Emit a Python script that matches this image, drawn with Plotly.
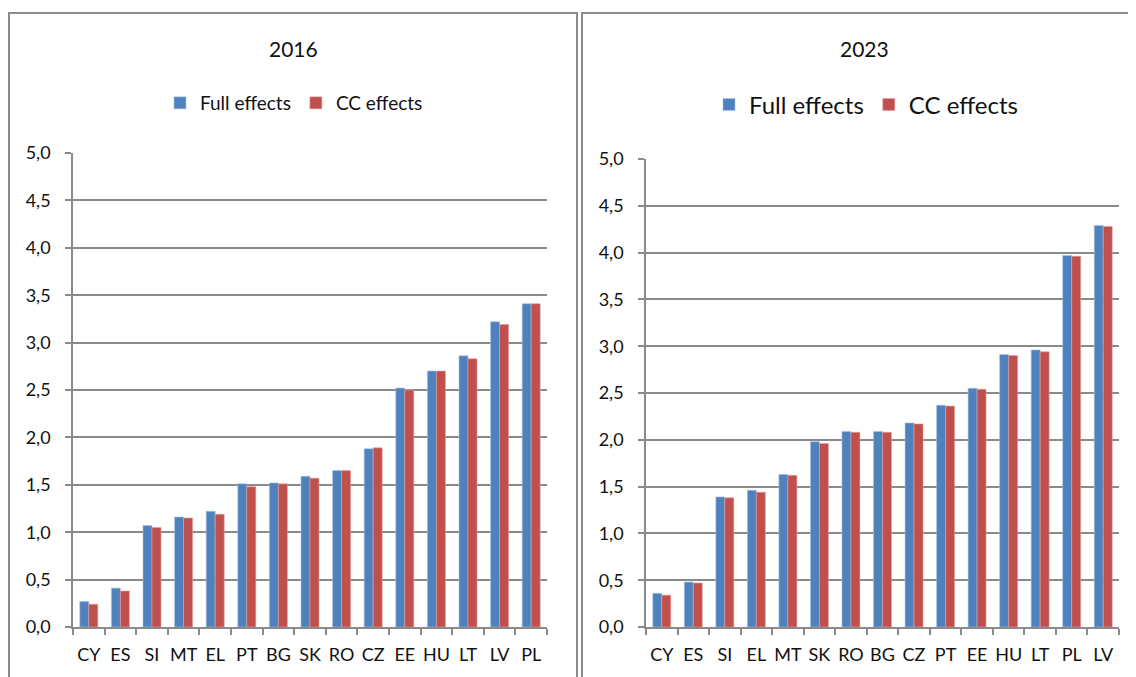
import plotly.graph_objects as go

W, H = 1136, 677
OFF = 8  # default page body margin of the html page

# ---- data ----
countries_2016 = ["CY", "ES", "SI", "MT", "EL", "PT", "BG", "SK", "RO", "CZ", "EE", "HU", "LT", "LV", "PL"]
full_2016 = [0.27, 0.41, 1.07, 1.16, 1.22, 1.51, 1.52, 1.59, 1.65, 1.88, 2.52, 2.70, 2.86, 3.22, 3.41]
cc_2016 = [0.24, 0.38, 1.05, 1.15, 1.19, 1.48, 1.51, 1.57, 1.65, 1.89, 2.50, 2.70, 2.83, 3.19, 3.41]

countries_2023 = ["CY", "ES", "SI", "EL", "MT", "SK", "RO", "BG", "CZ", "PT", "EE", "HU", "LT", "PL", "LV"]
full_2023 = [0.36, 0.48, 1.39, 1.46, 1.63, 1.98, 2.09, 2.09, 2.18, 2.37, 2.55, 2.91, 2.96, 3.97, 4.29]
cc_2023 = [0.34, 0.47, 1.38, 1.44, 1.62, 1.96, 2.08, 2.08, 2.17, 2.36, 2.54, 2.90, 2.94, 3.96, 4.28]

series_names = ["Full effects", "CC effects"]
colors = ["#4F81BD", "#C0504D"]
yticks = [0.0, 0.5, 1.0, 1.5, 2.0, 2.5, 3.0, 3.5, 4.0, 4.5, 5.0]

FONT = "Lato, 'Open Sans', sans-serif"

def px(x):
    return (x - OFF) / W

def py(y):
    return 1 - (y - OFF) / H

fig = go.Figure()

fig.add_trace(go.Bar(x=countries_2016, y=full_2016, name=series_names[0], marker_color=colors[0],
                     marker_line=dict(color="#A9C1E0", width=0.6), xaxis="x", yaxis="y", legend="legend"))
fig.add_trace(go.Bar(x=countries_2016, y=cc_2016, name=series_names[1], marker_color=colors[1],
                     marker_line=dict(color="#DDA09E", width=0.6), xaxis="x", yaxis="y", legend="legend"))
fig.add_trace(go.Bar(x=countries_2023, y=full_2023, name=series_names[0], marker_color=colors[0],
                     marker_line=dict(color="#A9C1E0", width=0.6), xaxis="x2", yaxis="y2", legend="legend2"))
fig.add_trace(go.Bar(x=countries_2023, y=cc_2023, name=series_names[1], marker_color=colors[1],
                     marker_line=dict(color="#DDA09E", width=0.6), xaxis="x2", yaxis="y2", legend="legend2"))

AX = "#8a8a8a"
TICKFONT = dict(family=FONT, size=18, color="#111")
common_x = dict(showgrid=False, showline=True, linecolor=AX, linewidth=1.5, ticks="outside",
                tickson="boundaries", ticklen=6, tickcolor=AX, tickwidth=1.5, tickangle=0,
                automargin=False, ticklabelstandoff=11,
                tickfont=TICKFONT, fixedrange=True)
common_y = dict(range=[0, 5], tickvals=yticks, tickformat=".1f", showgrid=True, gridcolor=AX,
                gridwidth=1.5, showline=True, linecolor=AX, linewidth=1.5, ticks="outside",
                ticklen=6, tickcolor=AX, tickwidth=1.5, zeroline=False, automargin=False,
                ticklabelstandoff=11, tickfont=TICKFONT, fixedrange=True)

fig.update_layout(
    width=W, height=H,
    margin=dict(l=0, r=0, t=0, b=0, autoexpand=False),
    paper_bgcolor="white", plot_bgcolor="white",
    separators=", ",
    barmode="group", bargap=0.43, bargroupgap=0.0,
    font=dict(family=FONT, color="#111"),
    xaxis=dict(domain=[px(73), px(547)], anchor="y", **common_x),
    yaxis=dict(domain=[py(627), py(153)], anchor="x", **common_y),
    xaxis2=dict(domain=[px(646), px(1119)], anchor="y2", **common_x),
    yaxis2=dict(domain=[py(627), py(159)], anchor="x2", **common_y),
    legend=dict(orientation="h", x=px(294), y=py(103), xanchor="center", yanchor="middle",
                font=dict(family=FONT, size=19, color="#111"), bgcolor="rgba(0,0,0,0)",
                itemwidth=30, traceorder="normal"),
    legend2=dict(orientation="h", x=px(866), y=py(105), xanchor="center", yanchor="middle",
                 font=dict(family=FONT, size=24, color="#111"), bgcolor="rgba(0,0,0,0)",
                 itemwidth=30, traceorder="normal"),
    annotations=[
        dict(text="2016", x=px(293.5), y=py(48), xref="paper", yref="paper", showarrow=False,
             font=dict(family=FONT, size=21, color="#111"), xanchor="center", yanchor="middle"),
        dict(text="2023", x=px(864.5), y=py(48), xref="paper", yref="paper", showarrow=False,
             font=dict(family=FONT, size=21, color="#111"), xanchor="center", yanchor="middle"),
    ],
    shapes=[
        dict(type="rect", xref="paper", yref="paper", x0=px(9), x1=px(577), y0=py(720), y1=py(13),
             line=dict(color="#8c8c8c", width=2), fillcolor="rgba(0,0,0,0)", layer="below"),
        dict(type="rect", xref="paper", yref="paper", x0=px(582), x1=px(1170), y0=py(720), y1=py(13),
             line=dict(color="#8c8c8c", width=2), fillcolor="rgba(0,0,0,0)", layer="below"),
    ],
)

fig.write_html("out.html")
